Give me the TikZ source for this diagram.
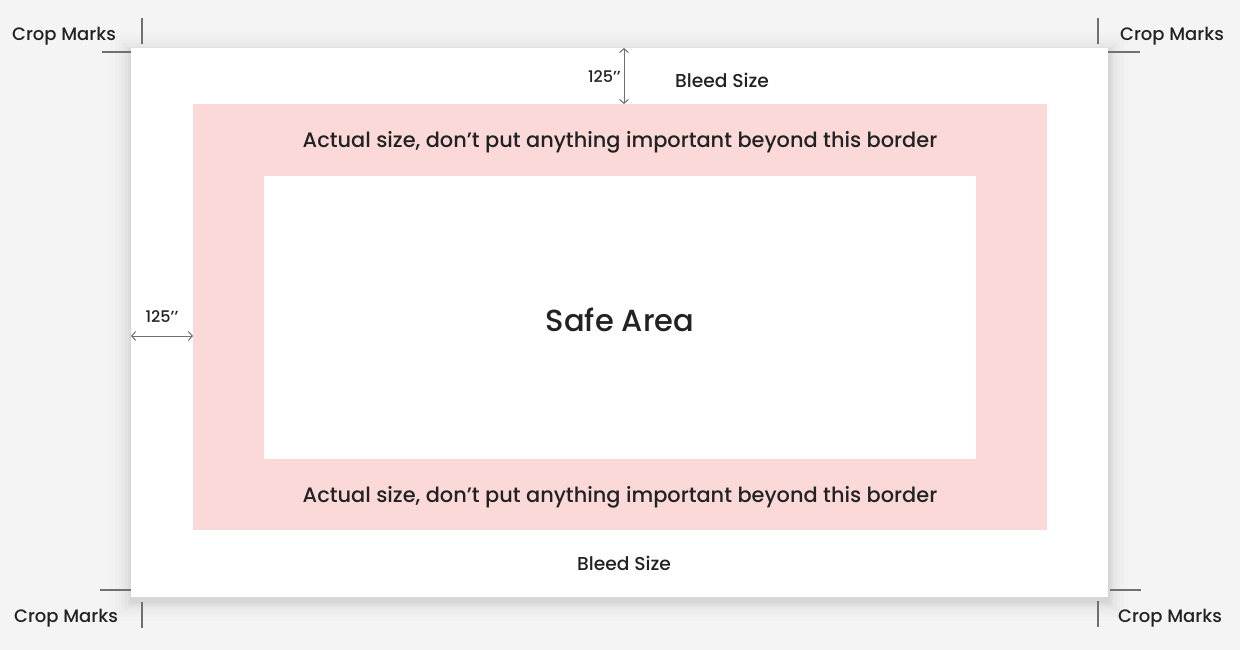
\documentclass[tikz,border=0pt]{standalone}
\usepackage{fontspec}
\setmainfont{Poppins}[UprightFont=* Medium]
\usetikzlibrary{arrows.meta}
\definecolor{bgc}{HTML}{F4F4F4}
\definecolor{pinkc}{HTML}{FCD9D9}
\definecolor{txtc}{HTML}{222222}
\definecolor{linec}{HTML}{707070}
\tikzset{
  lbl/.style={text=txtc, font=\fontsize{18}{21}\selectfont, inner sep=0pt},
  bleedlbl/.style={text=txtc, font=\fontsize{18.7}{22}\selectfont, inner sep=0pt},
  small/.style={text=txtc, font=\fontsize{16}{19}\selectfont, inner sep=0pt},
  big/.style={text=txtc, font=\fontsize{20.9}{24}\selectfont, inner sep=0pt},
  cropline/.style={draw=linec, line width=1.2pt},
  dim/.style={draw=linec, line width=1pt, {Straight Barb[length=4pt,width=9pt]}-{Straight Barb[length=4pt,width=9pt]}},
}
\begin{document}
\begin{tikzpicture}[x=1pt,y=-1pt]
\fill[bgc] (0,0) rectangle (1240,650);
\useasboundingbox (0,0) rectangle (1240,650);
% soft shadow
\foreach \d/\o in {20/0.008,16/0.01,12/0.013,9/0.016,6/0.02,3.5/0.025,1.5/0.03}{
  \fill[black, opacity=\o] (131-\d,48-\d+4) rectangle (1108+\d,597+\d+4);
}
\fill[white] (131,48) rectangle (1108,597);
\fill[pinkc] (193,104) rectangle (1047,530);
\fill[white] (264,176) rectangle (976,459);

% crop marks
\draw[cropline] (142,18) -- (142,44);
\draw[cropline] (102,52) -- (131,52);
\draw[cropline] (1098,18) -- (1098,44);
\draw[cropline] (1108,52) -- (1140,52);
\draw[cropline] (100,590) -- (131,590);
\draw[cropline] (142,602) -- (142,628);
\draw[cropline] (1110,590) -- (1141,590);
\draw[cropline] (1098,601) -- (1098,627);

\node[lbl] (cm1) at (64,36) {Crop Marks};
\node[lbl] (cm2) at (1172,36) {Crop Marks};
\node[lbl] (cm3) at (66,618) {Crop Marks};
\node[lbl] (cm4) at (1170,618) {Crop Marks};

% dimension arrows
\coordinate (vtop) at (624,48);
\coordinate (vbot) at (624,104);
\draw[dim] (vtop) -- (vbot);
\node[small, anchor=east] (d1) at (621,77) {125{’}{’}};
\coordinate (hl) at (131,336);
\coordinate (hr) at (193,336);
\draw[dim] (hl) -- (hr);
\node[small] (d2) at (162,317) {125{’}{’}};

\node[bleedlbl] (b1) at (722,80) {Bleed Size};
\node[bleedlbl] (b2) at (624,563) {Bleed Size};

\node[big] (a1) at (620,142) {Actual size, don’t put anything important beyond this border};
\node[big] (a2) at (620,497) {Actual size, don’t put anything important beyond this border};

\node[text=txtc, font=\fontsize{30.5}{36}\selectfont, inner sep=0pt] (safe) at (620,320) {Safe Area};
\end{tikzpicture}
\end{document}
